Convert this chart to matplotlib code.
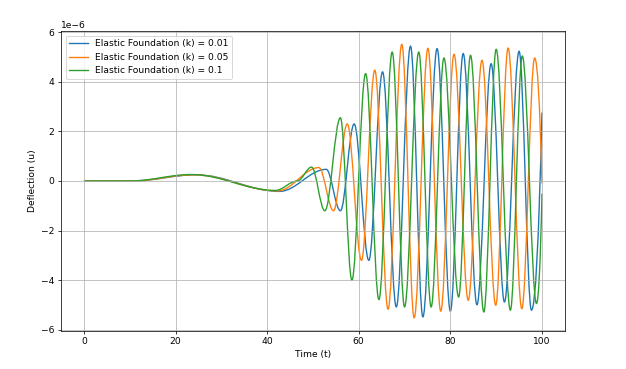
import matplotlib
matplotlib.use("Agg")
import matplotlib.pyplot as plt
from matplotlib.path import Path
from matplotlib.patches import PathPatch

SCALE = 1e-6  # deflection values below are in units of 1e-6
DPI = 66

# turning points (time, deflection), last entry is the end of the record
t_k001 = [0, 10.5, 24.5, 42.7, 52.9, 56.0, 59.0, 62.2, 65.2, 68.2, 71.3, 74.0,
          77.1, 80.0, 82.8, 85.8, 88.9, 91.8, 95.0, 97.7, 100]
u_k001 = [0, 0, 0.25, -0.42, 0.47, -1.2, 2.3, -3.2, 4.4, -5.08, 5.44, -5.48,
          5.34, -5.25, 5.14, -4.99, 4.73, -4.88, 5.23, -5.21, 2.76]

t_k005 = [0, 10.5, 24.0, 42.3, 51.3, 54.5, 57.5, 60.6, 63.5, 66.4, 69.4, 72.1,
          75.1, 77.9, 80.8, 83.9, 86.9, 89.9, 92.6, 95.6, 98.4, 100]
u_k005 = [0, 0, 0.25, -0.4, 0.54, -1.2, 2.3, -3.2, 4.47, -5.17, 5.51, -5.52,
          5.35, -5.25, 5.11, -4.81, 4.87, -5.01, 5.36, -5.15, 4.96, -0.1]

t_k01 = [0, 10.0, 23.5, 41.8, 46.6, 49.7, 52.6, 56.0, 58.5, 61.5, 64.4, 67.3,
         70.0, 73.1, 75.8, 78.6, 81.8, 84.4, 87.3, 90.0, 93.1, 95.7, 98.8, 100]
u_k01 = [0, 0, 0.26, -0.38, 0.0, 0.56, -1.2, 2.55, -4.0, 4.33, -4.78, 5.2,
         -5.08, 5.2, -5.08, 4.96, -4.68, 5.07, -5.28, 5.31, -5.21, 5.04, -4.94, -0.51]

labels = ["Elastic Foundation (k) = 0.01",
          "Elastic Foundation (k) = 0.05",
          "Elastic Foundation (k) = 0.1"]
colors = ["tab:blue", "tab:orange", "tab:green"]


def smooth_path(t, u):
    """smooth curve through the turning points (flat tangent at each one)"""
    u = [v * SCALE for v in u]
    verts = [(t[0], u[0])]
    codes = [Path.MOVETO]
    for i in range(1, len(t)):
        dt = t[i] - t[i - 1]
        if i == len(t) - 1:
            verts += [(t[i - 1] + 0.55 * dt, u[i - 1]), (t[i], u[i])]
            codes += [Path.CURVE3] * 2
        else:
            verts += [(t[i - 1] + 0.36 * dt, u[i - 1]),
                      (t[i] - 0.36 * dt, u[i]), (t[i], u[i])]
            codes += [Path.CURVE4] * 3
    return Path(verts, codes)


def main():
    fig = plt.figure(figsize=(626 / DPI, 369 / DPI), dpi=DPI)
    ax = fig.add_axes([0.0974, 0.103, 0.805, 0.813])

    series = [(t_k001, u_k001), (t_k005, u_k005), (t_k01, u_k01)]
    for (t, u), label, color in zip(series, labels, colors):
        ax.add_patch(PathPatch(smooth_path(t, u), facecolor="none",
                               edgecolor=color, linewidth=1.5))
        ax.plot([], [], color=color, label=label)

    ax.set_xlim(-5, 105)
    ax.set_ylim(-6.05e-6, 6.05e-6)
    ax.set_xlabel("Time (t)")
    ax.set_ylabel("Deflection (u)")
    ax.grid(True)
    ax.legend(loc="upper left")

    fig.savefig("out.png", dpi=DPI)


if __name__ == "__main__":
    main()
